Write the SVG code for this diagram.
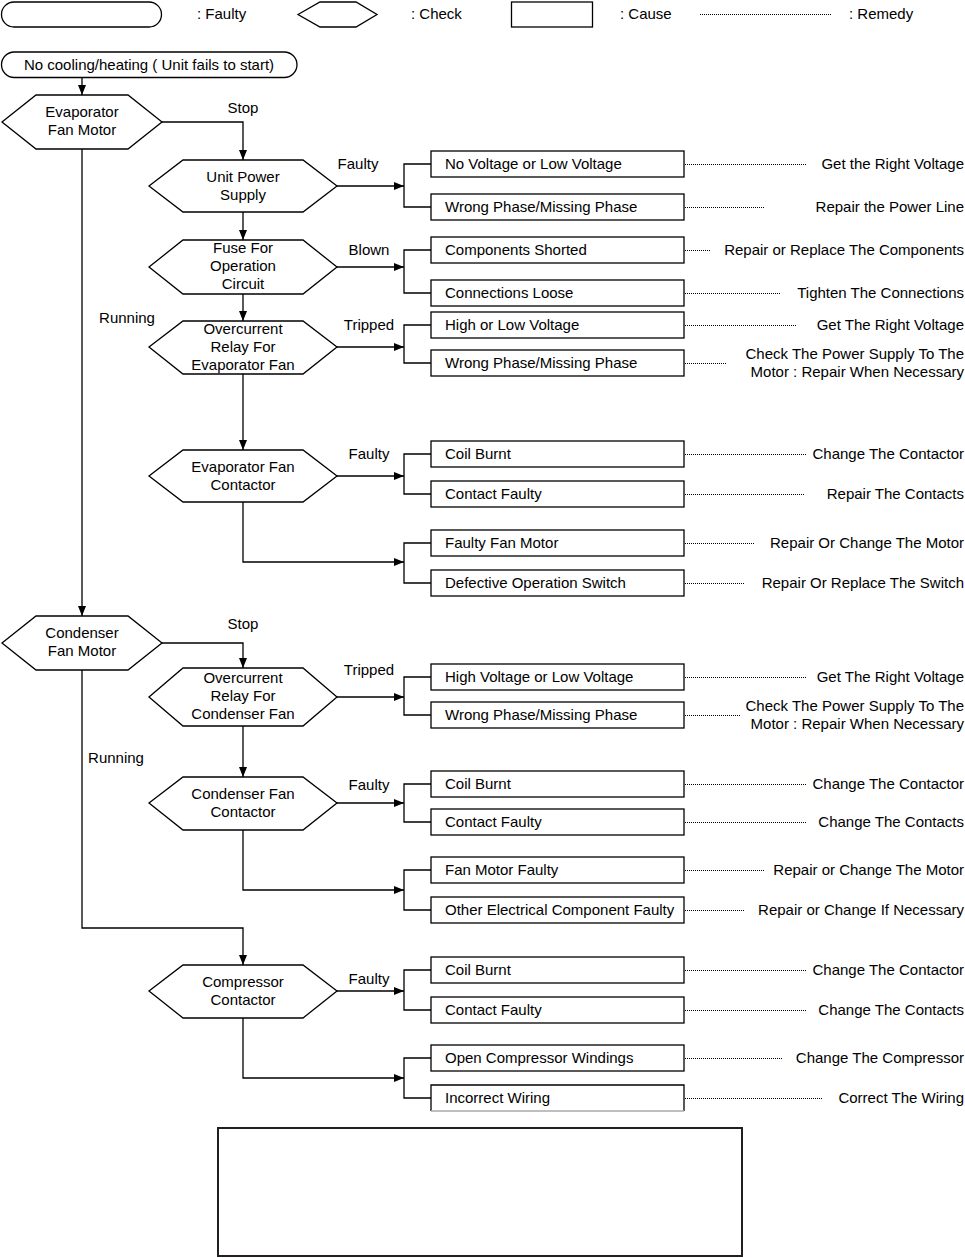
<svg xmlns="http://www.w3.org/2000/svg" width="965" height="1258" viewBox="0 0 965 1258">
<style>
text{font-family:"Liberation Sans",Arial,sans-serif;font-size:15px;fill:#000}
.c{text-anchor:middle}
.r{text-anchor:end}
.shape{fill:#fff;stroke:#000;stroke-width:1.3}
.ln{fill:none;stroke:#000;stroke-width:1.3}
.arr{fill:none;stroke:#000;stroke-width:1.3;marker-end:url(#ah)}
.dot{fill:none;stroke:#000;stroke-width:1;stroke-dasharray:1 1}
</style>
<defs>
<marker id="ah" markerUnits="userSpaceOnUse" markerWidth="10" markerHeight="10" refX="10" refY="5" orient="auto">
<path d="M0,1 L10,5 L0,9 Z" fill="#000"/>
</marker>
</defs>
<rect width="965" height="1258" fill="#fff"/>

<g id="legend">
<rect class="shape" x="1.5" y="2" width="160" height="25" rx="12.5"/>
<text x="197" y="19">:  Faulty</text>
<polygon class="shape" points="298,14.5 320,2 356,2 377,14.5 356,27 320,27"/>
<text x="411" y="19">:  Check</text>
<rect class="shape" x="511.5" y="2" width="81" height="25"/>
<text x="620" y="19">:  Cause</text>
<line class="dot" x1="700" y1="14.5" x2="832" y2="14.5"/>
<text x="849" y="19">: Remedy</text>
</g>

<g id="connectors">
<line class="arr" x1="82" y1="77" x2="82" y2="95"/>
<polyline class="arr" points="162,122 243,122 243,160"/>
<line class="arr" x1="243" y1="212" x2="243" y2="240"/>
<line class="arr" x1="243" y1="294" x2="243" y2="321"/>
<line class="arr" x1="243" y1="374" x2="243" y2="450"/>
<polyline class="arr" points="243,502 243,562 404,562"/>
<line class="arr" x1="82" y1="149" x2="82" y2="616"/>
<line class="arr" x1="337" y1="186" x2="404" y2="186"/>
<line class="arr" x1="337" y1="267" x2="404" y2="267"/>
<line class="arr" x1="337" y1="347" x2="404" y2="347"/>
<line class="arr" x1="337" y1="476" x2="404" y2="476"/>
<polyline class="ln" points="431,164 404,164 404,207 431,207"/>
<polyline class="ln" points="431,250 404,250 404,293 431,293"/>
<polyline class="ln" points="431,325 404,325 404,363 431,363"/>
<polyline class="ln" points="431,454 404,454 404,494 431,494"/>
<polyline class="ln" points="431,543 404,543 404,583 431,583"/>

<polyline class="arr" points="162,643 243,643 243,668"/>
<line class="arr" x1="337" y1="697" x2="404" y2="697"/>
<line class="arr" x1="243" y1="726" x2="243" y2="777"/>
<line class="arr" x1="337" y1="803" x2="404" y2="803"/>
<polyline class="arr" points="243,830 243,890 404,890"/>
<polyline class="arr" points="82,670 82,928 243,928 243,965"/>
<line class="arr" x1="337" y1="991" x2="404" y2="991"/>
<polyline class="arr" points="243,1018 243,1078 404,1078"/>
<polyline class="ln" points="431,677 404,677 404,715 431,715"/>
<polyline class="ln" points="431,784 404,784 404,822 431,822"/>
<polyline class="ln" points="431,870 404,870 404,910 431,910"/>
<polyline class="ln" points="431,970 404,970 404,1010 431,1010"/>
<polyline class="ln" points="431,1058 404,1058 404,1098 431,1098"/>

<line class="dot" x1="685" y1="164.5" x2="806" y2="164.5"/>
<line class="dot" x1="685" y1="207.5" x2="765" y2="207.5"/>
<line class="dot" x1="685" y1="250.5" x2="711" y2="250.5"/>
<line class="dot" x1="685" y1="293.5" x2="781" y2="293.5"/>
<line class="dot" x1="685" y1="325.5" x2="797" y2="325.5"/>
<line class="dot" x1="685" y1="363.5" x2="727" y2="363.5"/>
<line class="dot" x1="685" y1="454.5" x2="806" y2="454.5"/>
<line class="dot" x1="685" y1="494.5" x2="805" y2="494.5"/>
<line class="dot" x1="685" y1="543.5" x2="754" y2="543.5"/>
<line class="dot" x1="685" y1="583.5" x2="744" y2="583.5"/>
<line class="dot" x1="685" y1="677.5" x2="807" y2="677.5"/>
<line class="dot" x1="685" y1="715.5" x2="741" y2="715.5"/>
<line class="dot" x1="685" y1="784.5" x2="807" y2="784.5"/>
<line class="dot" x1="685" y1="822.5" x2="807" y2="822.5"/>
<line class="dot" x1="685" y1="870.5" x2="765" y2="870.5"/>
<line class="dot" x1="685" y1="910.5" x2="744" y2="910.5"/>
<line class="dot" x1="685" y1="970.5" x2="807" y2="970.5"/>
<line class="dot" x1="685" y1="1010.5" x2="807" y2="1010.5"/>
<line class="dot" x1="685" y1="1058.5" x2="782" y2="1058.5"/>
<line class="dot" x1="685" y1="1098.5" x2="822" y2="1098.5"/>

<text class="c" x="243" y="113">Stop</text>
<text class="c" x="358" y="169">Faulty</text>
<text class="c" x="369" y="255">Blown</text>
<text class="c" x="369" y="330">Tripped</text>
<text class="c" x="369" y="459">Faulty</text>
<text class="c" x="127" y="323">Running</text>
<text class="c" x="243" y="629">Stop</text>
<text class="c" x="369" y="675">Tripped</text>
<text class="c" x="116" y="763">Running</text>
<text class="c" x="369" y="790">Faulty</text>
<text class="c" x="369" y="984">Faulty</text>
</g>

<g id="start">
<rect class="shape" x="1.5" y="52" width="295.5" height="25.5" rx="12.7"/>
<text class="c" x="149" y="70">No cooling/heating ( Unit fails to start)</text>
</g>

<g id="evap-fan-motor">
<polygon class="shape" points="2,122 36,95 128,95 162,122 128,149 36,149"/>
<text class="c" x="82" y="117">Evaporator</text>
<text class="c" x="82" y="135">Fan Motor</text>
</g>
<g id="unit-power-supply">
<polygon class="shape" points="149,186 183,160 303,160 337,186 303,212 183,212"/>
<text class="c" x="243" y="182">Unit Power</text>
<text class="c" x="243" y="200">Supply</text>
</g>
<g id="fuse">
<polygon class="shape" points="149,267 183,240 303,240 337,267 303,294 183,294"/>
<text class="c" x="243" y="253">Fuse For</text>
<text class="c" x="243" y="271">Operation</text>
<text class="c" x="243" y="289">Circuit</text>
</g>
<g id="overcurrent-evap">
<polygon class="shape" points="149,347 183,321 303,321 337,347 303,374 183,374"/>
<text class="c" x="243" y="334">Overcurrent</text>
<text class="c" x="243" y="352">Relay For</text>
<text class="c" x="243" y="370">Evaporator Fan</text>
</g>
<g id="evap-contactor">
<polygon class="shape" points="149,476 183,450 303,450 337,476 303,502 183,502"/>
<text class="c" x="243" y="472">Evaporator Fan</text>
<text class="c" x="243" y="490">Contactor</text>
</g>
<g id="cond-fan-motor">
<polygon class="shape" points="2,643 36,616 128,616 162,643 128,670 36,670"/>
<text class="c" x="82" y="638">Condenser</text>
<text class="c" x="82" y="656">Fan Motor</text>
</g>
<g id="overcurrent-cond">
<polygon class="shape" points="149,697 183,668 303,668 337,697 303,726 183,726"/>
<text class="c" x="243" y="683">Overcurrent</text>
<text class="c" x="243" y="701">Relay For</text>
<text class="c" x="243" y="719">Condenser Fan</text>
</g>
<g id="cond-contactor">
<polygon class="shape" points="149,803 183,777 303,777 337,803 303,830 183,830"/>
<text class="c" x="243" y="799">Condenser Fan</text>
<text class="c" x="243" y="817">Contactor</text>
</g>
<g id="comp-contactor">
<polygon class="shape" points="149,991 183,965 303,965 337,991 303,1018 183,1018"/>
<text class="c" x="243" y="987">Compressor</text>
<text class="c" x="243" y="1005">Contactor</text>
</g>

<g id="cause-1"><rect class="shape" x="431" y="151" width="253" height="26"/><text x="445" y="169">No Voltage or Low Voltage</text></g>
<g id="cause-2"><rect class="shape" x="431" y="194" width="253" height="26"/><text x="445" y="212">Wrong Phase/Missing Phase</text></g>
<g id="cause-3"><rect class="shape" x="431" y="237" width="253" height="26"/><text x="445" y="255">Components Shorted</text></g>
<g id="cause-4"><rect class="shape" x="431" y="280" width="253" height="26"/><text x="445" y="298">Connections Loose</text></g>
<g id="cause-5"><rect class="shape" x="431" y="312" width="253" height="26"/><text x="445" y="330">High or Low Voltage</text></g>
<g id="cause-6"><rect class="shape" x="431" y="350" width="253" height="26"/><text x="445" y="368">Wrong Phase/Missing Phase</text></g>
<g id="cause-7"><rect class="shape" x="431" y="441" width="253" height="26"/><text x="445" y="459">Coil Burnt</text></g>
<g id="cause-8"><rect class="shape" x="431" y="481" width="253" height="26"/><text x="445" y="499">Contact Faulty</text></g>
<g id="cause-9"><rect class="shape" x="431" y="530" width="253" height="26"/><text x="445" y="548">Faulty Fan Motor</text></g>
<g id="cause-10"><rect class="shape" x="431" y="570" width="253" height="26"/><text x="445" y="588">Defective Operation Switch</text></g>
<g id="cause-11"><rect class="shape" x="431" y="664" width="253" height="26"/><text x="445" y="682">High Voltage or Low Voltage</text></g>
<g id="cause-12"><rect class="shape" x="431" y="702" width="253" height="26"/><text x="445" y="720">Wrong Phase/Missing Phase</text></g>
<g id="cause-13"><rect class="shape" x="431" y="771" width="253" height="26"/><text x="445" y="789">Coil Burnt</text></g>
<g id="cause-14"><rect class="shape" x="431" y="809" width="253" height="26"/><text x="445" y="827">Contact Faulty</text></g>
<g id="cause-15"><rect class="shape" x="431" y="857" width="253" height="26"/><text x="445" y="875">Fan Motor Faulty</text></g>
<g id="cause-16"><rect class="shape" x="431" y="897" width="253" height="26"/><text x="445" y="915">Other Electrical Component Faulty</text></g>
<g id="cause-17"><rect class="shape" x="431" y="957" width="253" height="26"/><text x="445" y="975">Coil Burnt</text></g>
<g id="cause-18"><rect class="shape" x="431" y="997" width="253" height="26"/><text x="445" y="1015">Contact Faulty</text></g>
<g id="cause-19"><rect class="shape" x="431" y="1045" width="253" height="26"/><text x="445" y="1063">Open Compressor Windings</text></g>
<g id="cause-20"><path class="ln" d="M431,1111 V1085 H684 V1111"/><line x1="431" y1="1111" x2="684" y2="1111" stroke="#aaa" stroke-width="1.3"/><text x="445" y="1103">Incorrect Wiring</text></g>

<g id="remedies">
<text class="r" x="964" y="169">Get the Right Voltage</text>
<text class="r" x="964" y="212">Repair the Power Line</text>
<text class="r" x="964" y="255">Repair or Replace The Components</text>
<text class="r" x="964" y="298">Tighten The Connections</text>
<text class="r" x="964" y="330">Get The Right Voltage</text>
<text class="r" x="964" y="359">Check The Power Supply To The</text>
<text class="r" x="964" y="377">Motor : Repair When Necessary</text>
<text class="r" x="964" y="459">Change The Contactor</text>
<text class="r" x="964" y="499">Repair The Contacts</text>
<text class="r" x="964" y="548">Repair Or Change The Motor</text>
<text class="r" x="964" y="588">Repair Or Replace The Switch</text>
<text class="r" x="964" y="682">Get The Right Voltage</text>
<text class="r" x="964" y="711">Check The Power Supply To The</text>
<text class="r" x="964" y="729">Motor : Repair When Necessary</text>
<text class="r" x="964" y="789">Change The Contactor</text>
<text class="r" x="964" y="827">Change The Contacts</text>
<text class="r" x="964" y="875">Repair or Change The Motor</text>
<text class="r" x="964" y="915">Repair or Change If Necessary</text>
<text class="r" x="964" y="975">Change The Contactor</text>
<text class="r" x="964" y="1015">Change The Contacts</text>
<text class="r" x="964" y="1063">Change The Compressor</text>
<text class="r" x="964" y="1103">Correct The Wiring</text>
</g>

<g id="blank-box">
<rect x="218" y="1128" width="524" height="128" fill="none" stroke="#231f20" stroke-width="2"/>
</g>
</svg>
